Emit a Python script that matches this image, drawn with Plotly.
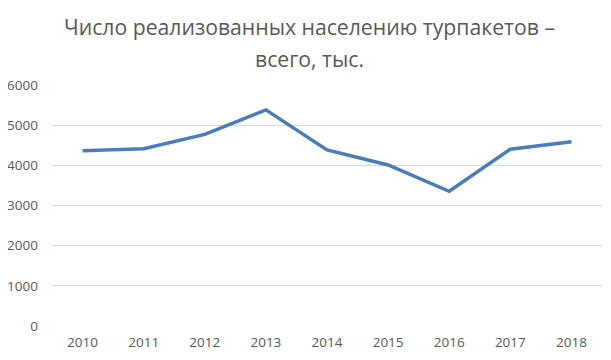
import plotly.graph_objects as go

years = ["2010", "2011", "2012", "2013", "2014", "2015", "2016", "2017", "2018"]
values = [4360, 4415, 4770, 5380, 4385, 4010, 3355, 4400, 4590]
y_ticks = [0, 1000, 2000, 3000, 4000, 5000, 6000]
title_line1 = "Число реализованных населению турпакетов –"
title_line2 = "всего, тыс."

gray = "#595959"
fig = go.Figure()
fig.add_trace(go.Scatter(
    x=years, y=values, mode="lines",
    line=dict(color="#4A7EBB", width=3.5),
    hoverinfo="x+y",
))

# page body has an 8px default margin, so the figure is sized to fill the rest
fig.update_layout(
    width=603, height=352,
    margin=dict(l=44, r=9, t=77, b=34, autoexpand=False),
    paper_bgcolor="white", plot_bgcolor="white",
    showlegend=False,
    font=dict(family="Open Sans", color=gray, size=14),
    xaxis=dict(type="category", range=[-0.5, 8.5], showgrid=False, showline=False,
               zeroline=False, automargin=False, ticks="", ticklabelstandoff=6,
               tickfont=dict(size=13.5, color=gray)),
    yaxis=dict(range=[0, 6000], tickvals=y_ticks, showgrid=True, automargin=False,
               gridcolor="#D9D9D9", gridwidth=1, zeroline=False, showline=False,
               ticks="", ticklabelstandoff=13, tickfont=dict(size=13.5, color=gray)),
    annotations=[
        dict(text=title_line1, xref="paper", yref="paper", x=0.468, y=(326 - 27) / 241,
             xanchor="center", yanchor="middle", showarrow=False,
             font=dict(size=21.2, color=gray, family="Open Sans")),
        dict(text=title_line2, xref="paper", yref="paper", x=0.468, y=(326 - 59) / 241,
             xanchor="center", yanchor="middle", showarrow=False,
             font=dict(size=21.2, color=gray, family="Open Sans")),
    ],
)

fig.write_html("out.html")
